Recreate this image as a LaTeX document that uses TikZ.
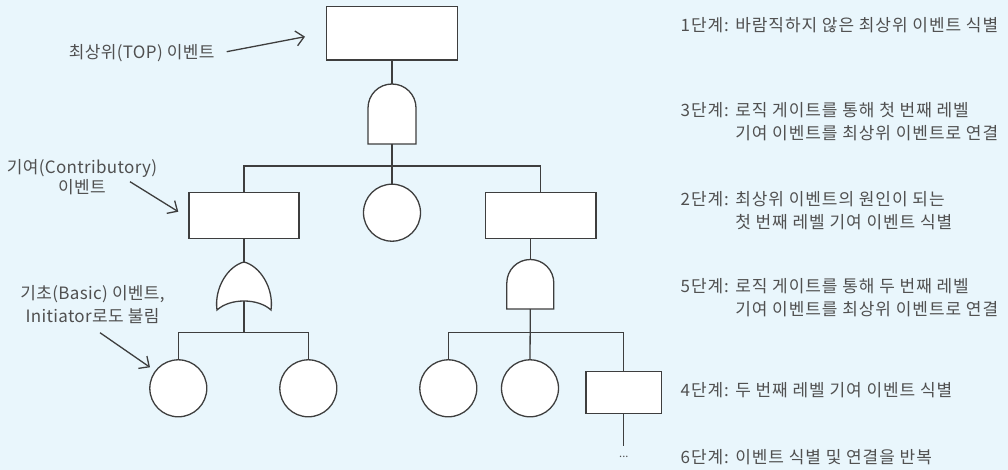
\documentclass[tikz,border=0pt]{standalone}
\usepackage{fontspec}
\setmainfont{Noto Sans CJK KR}
\usetikzlibrary{arrows.meta}
\definecolor{bg}{RGB}{233,246,252}
\definecolor{ln}{RGB}{62,62,62}
\definecolor{tx}{RGB}{80,80,80}
\begin{document}
\begin{tikzpicture}[x=1pt,y=-1pt,
  every node/.style={inner sep=0pt,outer sep=0pt},
  line/.style={draw=ln,line width=1.3pt},
  box/.style={line,fill=white,rectangle},
  ev/.style={line,fill=white,circle,minimum size=57pt},
  gate/.style={line,fill=white,line join=miter},
  lbl/.style={text=tx,font=\fontsize{17}{20}\selectfont\addfontfeature{LetterSpace=2},align=center},
  stp/.style={text=tx,font=\fontsize{17}{23.3}\selectfont\addfontfeature{LetterSpace=5.5},align=left,anchor=west},
  arr/.style={draw=ln,line width=1.3pt,-{Straight Barb[length=8pt,width=15pt,line width=1.3pt]}}
]
\fill[bg] (0,0) rectangle (1008,470);
\useasboundingbox (0,0) rectangle (1008,470);

% events
\node[box,minimum width=130.7pt,minimum height=53.3pt] (tb) at (392,33.5) {};
\node[box,minimum width=110pt,minimum height=46pt] (lb) at (244,215.3) {};
\node[box,minimum width=110.7pt,minimum height=46pt] (rb) at (540.7,215.3) {};
\node[box,minimum width=75.7pt,minimum height=42pt] (sb) at (623.8,392.7) {};
\node[ev] (mc) at (392,212.7) {};
\node[ev] (c1) at (178.3,388.3) {};
\node[ev] (c2) at (308.3,388.3) {};
\node[ev] (c3) at (448.3,388.3) {};
\node[ev] (c4) at (530,388.3) {};

% gate 1 (AND)
\coordinate (g1t) at (392,84);
\coordinate (g1b) at (392,144);
\draw[gate] (368,144) -- (368,108) .. controls (368,94.7) and (378.7,84) .. (g1t)
  .. controls (405.3,84) and (416,94.7) .. (416,108) -- (416,144) -- cycle;
% gate 2 (OR)
\coordinate (g2t) at (244,262);
\coordinate (g2b) at (244,301);
\draw[gate] (217,310) .. controls (214,288) and (228,266) .. (g2t)
  .. controls (260,266) and (274,288) .. (271,310)
  .. controls (258,298) and (230,298) .. (217,310) -- cycle;
% gate 3 (AND)
\coordinate (g3t) at (530.3,259.5);
\coordinate (g3b) at (530.3,309);
\draw[gate] (506.8,309) -- (506.8,283) .. controls (506.8,270) and (517.3,259.5) .. (g3t)
  .. controls (543.3,259.5) and (553.8,270) .. (553.8,283) -- (553.8,309) -- cycle;

% connectors
\coordinate (j1) at (392,166);
\coordinate (j2) at (244,332.7);
\coordinate (j3) at (530.3,332.7);
\coordinate (dd) at (623.8,446);
\draw[line] (tb.south) -- (g1t);
\draw[line] (g1b) -- (mc.north);
\draw[line] (lb.north) |- (j1) -| (rb.north);
\draw[line] (lb.south) -- (g2t);
\draw[line] (g2b) -- (j2);
\draw[line] (c1.north) |- (j2) -| (c2.north);
\draw[line] (g3t |- rb.south) -- (g3t);
\draw[line] (g3b) -- (c4.north);
\draw[line] (c3.north) |- (j3) -| (sb.north);
\draw[line] (sb.south) -- (dd);
\node[text=tx,font=\fontsize{11}{11}\selectfont] (dots) at (623.8,457) {...};

% left labels
\node[lbl] (tl) at (141.7,53) {최상위(TOP) 이벤트};
\node[lbl] (cl) at (82,176.7) {기여(Contributory)\\이벤트};
\node[lbl,font=\fontsize{17}{22.7}\selectfont\addfontfeature{LetterSpace=2}] (bl) at (92.5,304.6) {기초(Basic) 이벤트,\\Initiator로도 불림};
\draw[arr] (226.7,51.7) -- (305,36.7);
\draw[arr] (130,181.7) -- (178.3,211.7);
\draw[arr] (100,332.7) -- (150,367.3);

% steps
\node[stp] (s1) at (680.7,25) {1단계: 바람직하지 않은 최상위 이벤트 식별};
\node[stp] (s3) at (680.7,121.7) {3단계: 로직 게이트를 통해 첫 번째 레벨\\\phantom{3단계: }기여 이벤트를 최상위 이벤트로 연결};
\node[stp] (s2) at (680.7,210.8) {2단계: 최상위 이벤트의 원인이 되는\\\phantom{2단계: }첫 번째 레벨 기여 이벤트 식별};
\node[stp] (s5) at (680.7,297.5) {5단계: 로직 게이트를 통해 두 번째 레벨\\\phantom{5단계: }기여 이벤트를 최상위 이벤트로 연결};
\node[stp] (s4) at (680.7,390) {4단계: 두 번째 레벨 기여 이벤트 식별};
\node[stp] (s6) at (680.7,456.7) {6단계: 이벤트 식별 및 연결을 반복};
\end{tikzpicture}
\end{document}
